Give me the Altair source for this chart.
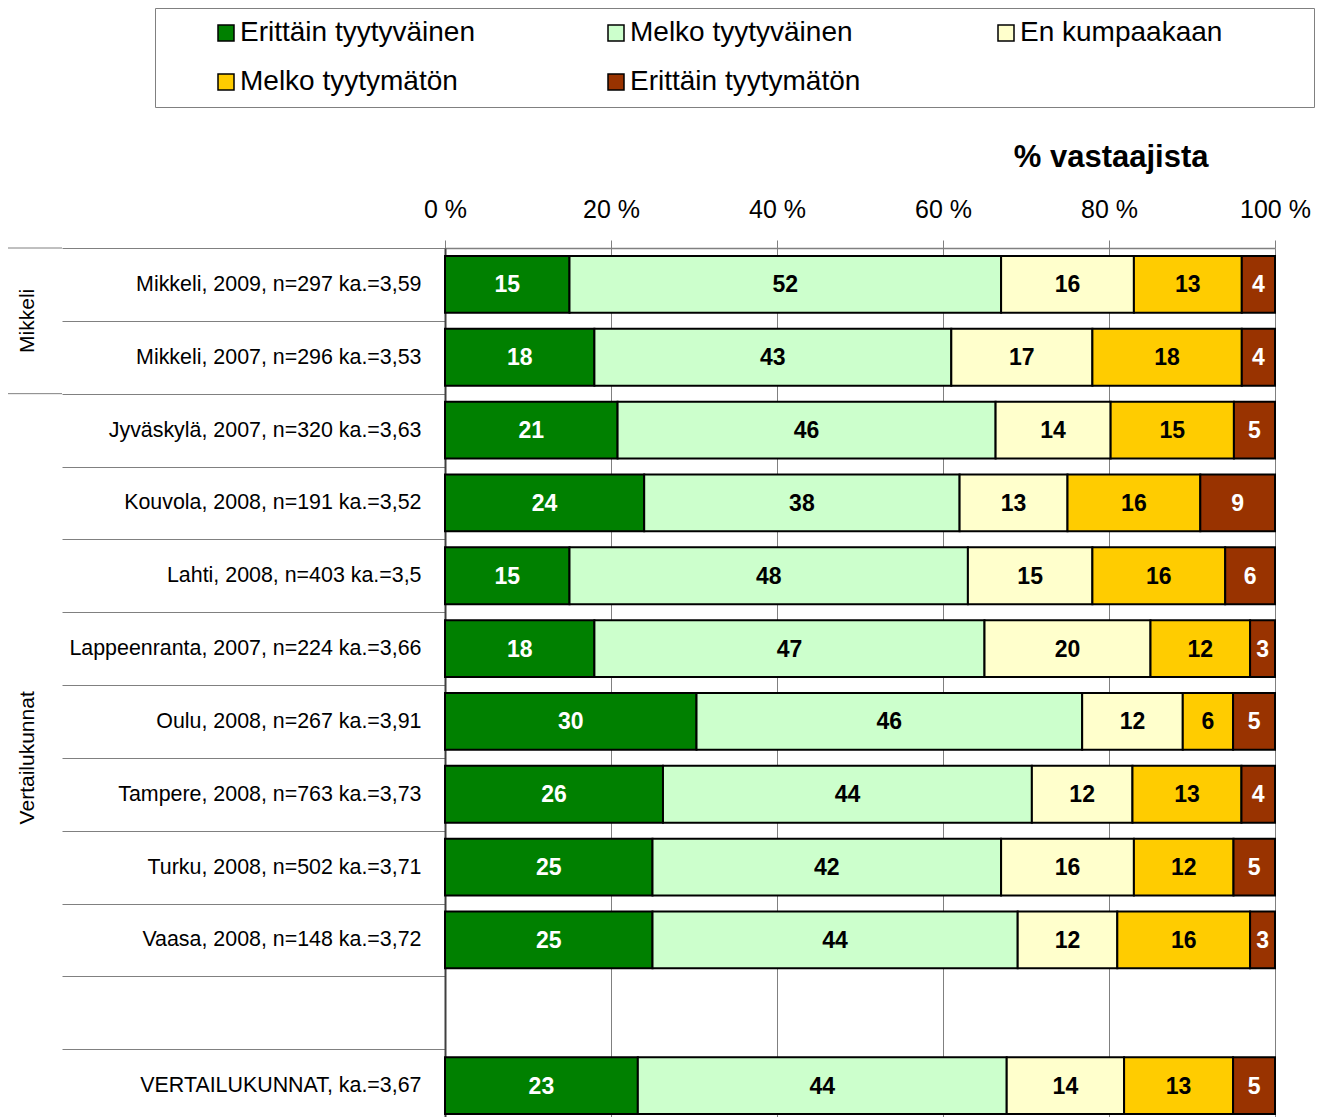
import altair as alt
import pandas as pd

rows = [
    "Mikkeli, 2009, n=297 ka.=3,59",
    "Mikkeli, 2007, n=296 ka.=3,53",
    "Jyväskylä, 2007, n=320 ka.=3,63",
    "Kouvola, 2008, n=191 ka.=3,52",
    "Lahti, 2008, n=403 ka.=3,5",
    "Lappeenranta, 2007, n=224 ka.=3,66",
    "Oulu, 2008, n=267 ka.=3,91",
    "Tampere, 2008, n=763 ka.=3,73",
    "Turku, 2008, n=502 ka.=3,71",
    "Vaasa, 2008, n=148 ka.=3,72",
    " ",
    "VERTAILUKUNNAT, ka.=3,67",
]
data_rows = [r for r in rows if r.strip()]

categories = ["Erittäin tyytyväinen", "Melko tyytyväinen", "En kumpaakaan",
              "Melko tyytymätön", "Erittäin tyytymätön"]
colors = ["#008000", "#CCFFCC", "#FFFFCC", "#FFCC00", "#993300"]

erittain_tyytyvainen = [15, 18, 21, 24, 15, 18, 30, 26, 25, 25, 23]
melko_tyytyvainen = [52, 43, 46, 38, 48, 47, 46, 44, 42, 44, 44]
en_kumpaakaan = [16, 17, 14, 13, 15, 20, 12, 12, 16, 12, 14]
melko_tyytymaton = [13, 18, 15, 16, 16, 12, 6, 13, 12, 16, 13]
erittain_tyytymaton = [4, 4, 5, 9, 6, 3, 5, 4, 5, 3, 5]

groups = ["Mikkeli", "Vertailukunnat"]
group_starts = [rows[0], rows[2]]
group_centers = [rows[1], rows[7]]

series = [erittain_tyytyvainen, melko_tyytyvainen, en_kumpaakaan,
          melko_tyytymaton, erittain_tyytymaton]
records = []
for k, (cat, vals) in enumerate(zip(categories, series)):
    for r, v in zip(data_rows, vals):
        records.append({"row": r, "cat": cat, "k": k, "value": v})
df = pd.DataFrame(records)

FONT = "Liberation Sans"
y_scale = alt.Scale(domain=rows, paddingInner=0, paddingOuter=0)
x_scale = alt.Scale(domain=[0, 1], nice=False)

base = alt.Chart(df).transform_stack(
    stack="value", groupby=["row"], as_=["v0", "v1"], offset="normalize",
    sort=[alt.SortField("k", order="ascending")]
).transform_calculate(
    mid="(datum.v0 + datum.v1) / 2",
    tc="(datum.k == 0 || datum.k == 4) ? 'white' : 'black'"
)

bars = base.mark_bar(height={"band": 0.78}, stroke="black", strokeWidth=2).encode(
    x=alt.X("v0:Q", scale=x_scale,
            axis=alt.Axis(orient="top", values=[0, 0.2, 0.4, 0.6, 0.8, 1],
                          labelExpr="format(datum.value*100, 'd') + ' %'",
                          labelFlush=False, labelFontSize=25, labelFont=FONT,
                          labelColor="black", labelBaseline="alphabetic",
                          labelPadding=23, tickSize=8, tickColor="#808080",
                          domainColor="#808080", domainWidth=1.5,
                          grid=True, gridColor="#808080", gridWidth=1,
                          title="% vastaajista", titleFontSize=31,
                          titleFontWeight="bold", titleFont=FONT,
                          titleColor="black", titleAlign="right",
                          titleAnchor="end", titleX=763, titleY=-82,
                          titleBaseline="alphabetic")),
    x2="v1:Q",
    y=alt.Y("row:N", scale=y_scale, sort=rows,
            axis=alt.Axis(orient="left", tickBand="extent", tickSize=383,
                          tickColor="#808080", tickWidth=1,
                          domainColor="#404040", domainWidth=2,
                          labelPadding=-359, labelFontSize=21.4, labelFont=FONT,
                          labelColor="black", labelLimit=600, title=None)),
    color=alt.Color("cat:N", scale=alt.Scale(domain=categories, range=colors),
                    legend=alt.Legend(
                        orient="none", legendX=-290, legendY=-240,
                        direction="horizontal", columns=3, gridAlign="all",
                        symbolType="square", symbolSize=256,
                        symbolStrokeColor="black", symbolStrokeWidth=1.5,
                        labelFontSize=28, labelFont=FONT, labelColor="black",
                        labelOffset=0, labelLimit=600,
                        padding=11, symbolOffset=46,
                        rowPadding=21, columnPadding=81,
                        strokeColor="#808080", fillColor="white",
                        title=" ", titleOrient="right", titlePadding=81,
                        titleFontSize=10)),
)

labels = base.mark_text(fontSize=23, fontWeight="bold", font=FONT,
                        baseline="middle", align="center", dy=1).encode(
    x=alt.X("mid:Q", scale=x_scale),
    y=alt.Y("row:N", scale=y_scale, sort=rows),
    text=alt.Text("value:Q", format="d"),
    color=alt.Color("tc:N", scale=None),
)

gdf = pd.DataFrame({"group": groups, "start": group_starts, "center": group_centers})

group_lines = alt.Chart(gdf).mark_rule(color="#808080", strokeWidth=1).encode(
    y=alt.Y("start:N", scale=y_scale, bandPosition=0),
    x=alt.value(-437),
    x2=alt.value(-383),
)

group_text = alt.Chart(gdf).mark_text(angle=270, fontSize=21, font=FONT,
                                      color="black", align="center",
                                      baseline="middle").encode(
    y=alt.Y("center:N", scale=y_scale, bandPosition=0),
    x=alt.value(-417),
    text="group:N",
)

chart = alt.layer(bars, labels, group_lines, group_text).properties(
    width=830, height=874,
    autosize=alt.AutoSizeParams(type="none"),
    padding={"left": 437, "top": 240, "right": 41, "bottom": 0},
).configure_view(strokeWidth=0).configure(background="white")

chart.save("out.html", embed_options={"renderer": "svg", "actions": False})
